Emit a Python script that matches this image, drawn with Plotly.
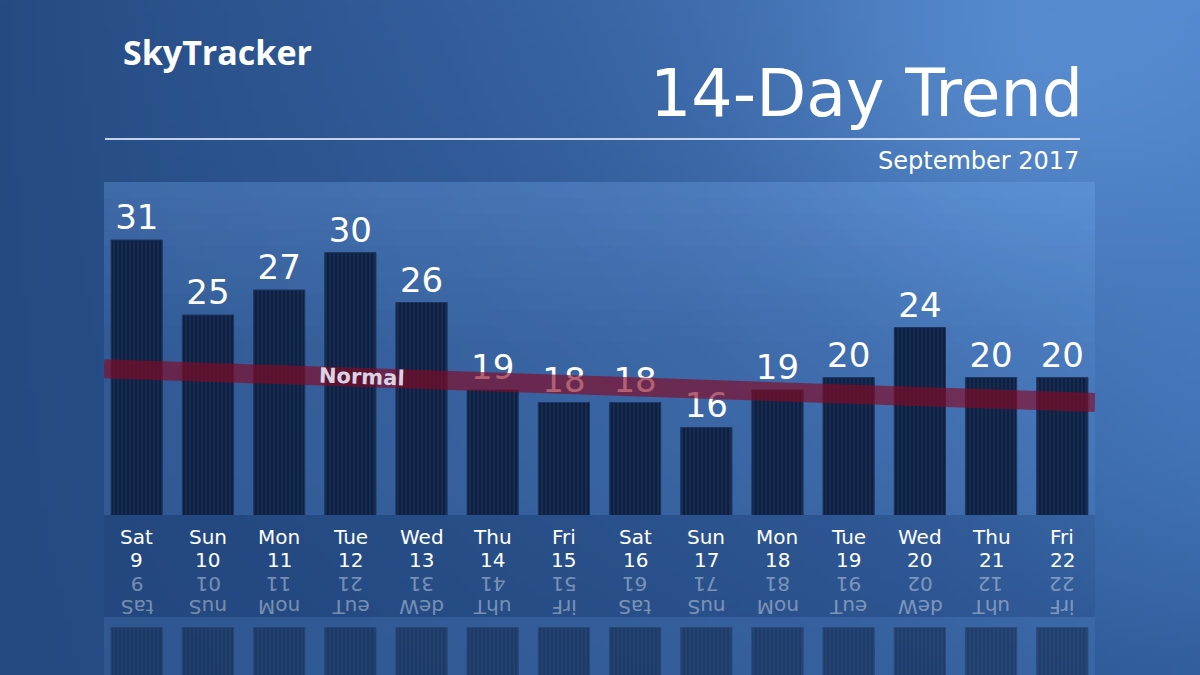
import base64
import math
import struct
import zlib

import plotly.graph_objects as go

# ---------------- data ----------------
day_names = ["Sat", "Sun", "Mon", "Tue", "Wed", "Thu", "Fri",
             "Sat", "Sun", "Mon", "Tue", "Wed", "Thu", "Fri"]
day_dates = ["9", "10", "11", "12", "13", "14", "15",
             "16", "17", "18", "19", "20", "21", "22"]
highs = [31, 25, 27, 30, 26, 19, 18, 18, 16, 19, 20, 24, 20, 20]
normal_ends = [20.7, 18.0]          # normal high at start / end of period
title_text = "14-Day Trend"
subtitle_text = "September 2017"
brand_text = "SkyTracker"

# ---------------- geometry helpers ----------------
W, H = 1200, 675
def px(x):
    return x / W
def py(y):
    return 1 - y / H

XR = [-0.46, len(highs) - 1 + 0.46]
YR = [9.0, 35.64]
Y2R = [3.8, -0.84]

FONT = "DejaVu Sans"


# ---------------- background sky (generated gradient) ----------------
def lerp(a, b, t):
    return a + (b - a) * t

def sky(u, v):
    tl, tr, bl, br = (37, 75, 131), (76, 126, 196), (36, 74, 130), (47, 90, 152)
    col = []
    for k in range(3):
        top = lerp(tl[k], tr[k], u)
        bot = lerp(bl[k], br[k], u)
        col.append(lerp(top, bot, v))
    d = math.hypot((u - 0.85) * 1.6, (v - 0.12))
    g = math.exp(-(d / 0.35) ** 2)
    amp = (18, 22, 22)
    d2 = math.hypot((u - 1.0) * 1.5, (v - 0.7))
    g2 = math.exp(-(d2 / 0.3) ** 2)
    amp2 = (8, 12, 14)
    return tuple(int(max(0, min(255, col[k] + amp[k] * g + amp2[k] * g2))) for k in range(3))

def png_data_uri(w, h, fn):
    raw = bytearray()
    for j in range(h):
        raw.append(0)
        for i in range(w):
            raw += bytes(fn(i / (w - 1), j / (h - 1)))
    def chunk(t, d):
        c = struct.pack(">I", len(d)) + t + d
        return c + struct.pack(">I", zlib.crc32(t + d) & 0xFFFFFFFF)
    png = (b"\x89PNG\r\n\x1a\n"
           + chunk(b"IHDR", struct.pack(">IIBBBBB", w, h, 8, 2, 0, 0, 0))
           + chunk(b"IDAT", zlib.compress(bytes(raw), 9))
           + chunk(b"IEND", b""))
    return "data:image/png;base64," + base64.b64encode(png).decode()

bg_uri = png_data_uri(160, 90, sky)

# ---------------- figure ----------------
fig = go.Figure()
xs = list(range(len(highs)))

bar_marker = dict(
    color="#0e2041",
    line=dict(color="#1d3762", width=1),
    pattern=dict(shape="|", fgcolor="rgba(85,125,185,0.45)", size=4, solidity=0.28),
)

# main bars
fig.add_trace(go.Bar(
    x=xs, y=highs, width=0.72, marker=bar_marker,
    text=[str(v) for v in highs], textposition="outside",
    outsidetextfont=dict(family=FONT, size=34, color="white"),
    cliponaxis=False, hoverinfo="skip", showlegend=False,
))

# normal band
fig.add_trace(go.Scatter(
    x=XR, y=normal_ends, mode="lines",
    line=dict(color="rgba(135,8,34,0.64)", width=19),
    hoverinfo="skip", showlegend=False,
))

# reflected bars
fig.add_trace(go.Bar(
    x=xs, y=highs, width=0.72, marker=bar_marker, opacity=0.55,
    yaxis="y2", hoverinfo="skip", showlegend=False,
))

# ---------------- shapes ----------------
shapes = []
shapes.append(dict(type="rect", xref="paper", yref="paper",
                   x0=px(104), x1=px(1095), y0=py(515), y1=py(182),
                   fillcolor="rgba(110,160,230,0.16)", line=dict(width=0), layer="below"))
n = 10
for i in range(n):
    y0 = 182 + i * 16
    shapes.append(dict(type="rect", xref="paper", yref="paper",
                       x0=px(104), x1=px(1095), y0=py(y0 + 16), y1=py(y0),
                       fillcolor="rgba(130,185,255,%.3f)" % (0.16 * (1 - i / n)),
                       line=dict(width=0), layer="below"))
shapes.append(dict(type="rect", xref="paper", yref="paper",
                   x0=px(104), x1=px(1095), y0=py(617), y1=py(515),
                   fillcolor="rgba(10,28,70,0.08)", line=dict(width=0), layer="below"))
shapes.append(dict(type="rect", xref="paper", yref="paper",
                   x0=px(104), x1=px(1095), y0=0, y1=py(617),
                   fillcolor="rgba(110,160,230,0.14)", line=dict(width=0), layer="below"))
shapes.append(dict(type="line", xref="paper", yref="paper",
                   x0=px(105), x1=px(1080), y0=py(139), y1=py(139),
                   line=dict(color="rgba(235,242,255,0.8)", width=2)))

# ---------------- annotations ----------------
ann = []
ann.append(dict(text=brand_text, xref="paper", yref="paper", x=px(121), y=py(52),
                xanchor="left", yanchor="middle", showarrow=False,
                font=dict(family="Open Sans", size=34, color="white", weight="bold")))
ann.append(dict(text=title_text, xref="paper", yref="paper", x=px(1085), y=py(93),
                xanchor="right", yanchor="middle", showarrow=False,
                font=dict(family=FONT, size=65, color="white")))
ann.append(dict(text=subtitle_text, xref="paper", yref="paper", x=px(1081), y=py(161),
                xanchor="right", yanchor="middle", showarrow=False,
                font=dict(family=FONT, size=24, color="white")))
ann.append(dict(text="Normal", xref="x", yref="y", x=3.16, y=20.05,
                xanchor="center", yanchor="middle", showarrow=False, textangle=2,
                font=dict(family=FONT, size=21, color="#d9d4e4", weight="bold")))

LBL = 20
for i, (d, n_) in enumerate(zip(day_names, day_dates)):
    ann.append(dict(text=d, xref="x", yref="paper", x=i, y=py(537),
                    xanchor="center", yanchor="middle", showarrow=False,
                    font=dict(family=FONT, size=LBL, color="white")))
    ann.append(dict(text=n_, xref="x", yref="paper", x=i, y=py(560),
                    xanchor="center", yanchor="middle", showarrow=False,
                    font=dict(family=FONT, size=LBL, color="white")))
    # mirrored reflections
    ann.append(dict(text=n_[::-1], xref="x", yref="paper", x=i, y=py(584),
                    xanchor="center", yanchor="middle", showarrow=False, textangle=180,
                    font=dict(family=FONT, size=LBL, color="rgba(255,255,255,0.4)")))
    ann.append(dict(text=d[::-1], xref="x", yref="paper", x=i, y=py(607),
                    xanchor="center", yanchor="middle", showarrow=False, textangle=180,
                    font=dict(family=FONT, size=LBL, color="rgba(255,255,255,0.4)")))

fig.update_layout(
    width=W, height=H,
    margin=dict(l=0, r=0, t=0, b=0),
    paper_bgcolor="#2d5896",
    plot_bgcolor="rgba(0,0,0,0)",
    barmode="overlay",
    images=[dict(source=bg_uri, xref="paper", yref="paper", x=0, y=1,
                 sizex=1, sizey=1, sizing="stretch", xanchor="left", yanchor="top",
                 layer="below")],
    shapes=shapes,
    annotations=ann,
    xaxis=dict(domain=[px(104), px(1095)], range=XR, visible=False, fixedrange=True),
    yaxis=dict(domain=[py(515), py(182)], range=YR, visible=False, fixedrange=True),
    yaxis2=dict(domain=[0, py(617)], range=Y2R, visible=False, anchor="x", fixedrange=True),
    showlegend=False,
)

fig.write_html("out.html",
               config={"displayModeBar": False, "staticPlot": True},
               post_script="document.body.style.margin='0';document.body.style.padding='0';")
